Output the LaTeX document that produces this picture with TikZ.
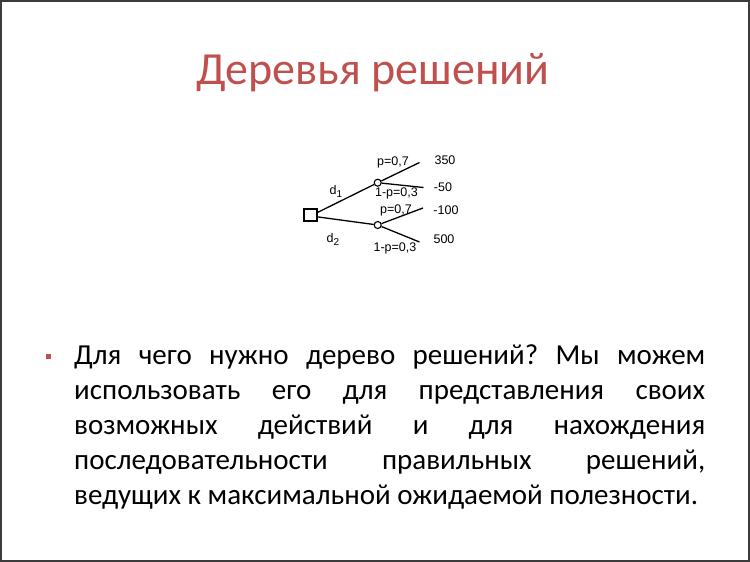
\documentclass[tikz,border=0pt]{standalone}
\usepackage{fontspec}
\setmainfont{Carlito}
\newfontfamily\treefont{Liberation Sans}
\definecolor{titlered}{RGB}{192,80,77}
\definecolor{framegray}{RGB}{60,60,60}
\newcommand{\sub}[1]{\raisebox{-3pt}{\fontsize{10}{10}\selectfont #1}}

\begin{document}
\begin{tikzpicture}[x=1pt, y=-1pt, every node/.style={inner sep=0pt},
  branch/.style={line width=1.3pt},
  lbl/.style={font=\treefont\fontsize{12.5}{13}\selectfont}]
\useasboundingbox (0,0) rectangle (750,562);
% Frame
\draw[framegray, line width=2pt] (1,1) rectangle (749,561);

% Title
\node[text=titlered, font=\fontsize{46}{50}\selectfont] (title) at (373,73) {Деревья решений};

% Tree
\node[draw, line width=1.1pt, minimum width=13pt, minimum height=12pt] (dec) at (310.5,215) {};
\node[circle, draw, line width=1.1pt, minimum size=7pt] (c1) at (377.7,182.7) {};
\node[circle, draw, line width=1.1pt, minimum size=7pt] (c2) at (377.7,225) {};
\coordinate (e1) at (419.5,162.5);
\coordinate (e2) at (423.5,187.5);
\coordinate (e3) at (423,208);
\coordinate (e4) at (419.5,242);

%Lines
\draw[branch] (dec.20) -- (c1);
\draw[branch] (dec.-15) -- (c2);
\draw[branch] (c1) -- (e1);
\draw[branch] (c1) -- (e2);
\draw[branch] (c2) -- (e3);
\draw[branch] (c2) -- (e4);

% Labels
\node[lbl] (d1) at (336,191) {d\sub{1}};
\node[lbl] (d2) at (333,239) {d\sub{2}};
\node[lbl] (p1) at (393,162) {p=0,7};
\node[lbl] (q1) at (396.5,193.5) {1-p=0,3};
\node[lbl] (p2) at (396,210) {p=0,7};
\node[lbl] (q2) at (395,248) {1-p=0,3};
\node[lbl] (v1) at (445,160) {350};
\node[lbl] (v2) at (443,187) {-50};
\node[lbl] (v3) at (446,210) {-100};
\node[lbl] (v4) at (444,239.5) {500};

% Bullet text
\node[fill=titlered, minimum size=5pt] (bullet) at (48.5,356.5) {};
\node[anchor=north west, text width=631pt, align=justify,
  font=\fontsize{29}{35}\selectfont] (body) at (74,344)
  {\frenchspacing\hyphenpenalty=10000 \tolerance=10000
   Для чего нужно дерево решений? Мы можем\linebreak
   использовать его для представления своих\linebreak
   возможных действий и для нахождения\linebreak
   последовательности правильных решений,\linebreak
   ведущих к максимальной ожидаемой полезности.};
\end{tikzpicture}
\end{document}
